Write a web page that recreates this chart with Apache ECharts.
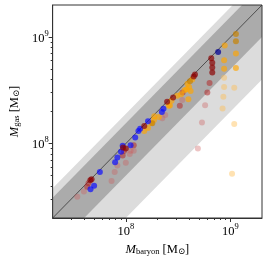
<!DOCTYPE html>
<html><head><meta charset="utf-8">
<script src="https://cdn.jsdelivr.net/npm/echarts@6/dist/echarts.min.js"></script>
<style>html,body{margin:0;padding:0;background:#fff}#c{width:268px;height:261px}</style>
</head><body><div id="c"></div>
<script>
// axis ranges and ticks
const axisMin = 2e7, axisMax = 2e9;
const majorTicks = [1e8, 1e9];
const minorTicks = [3e7,4e7,5e7,6e7,7e7,8e7,9e7,2e8,3e8,4e8,5e8,6e8,7e8,8e8,9e8];
// shaded bands: [low factor, high factor] relative to the 1:1 line
const bandLight = [0.2, 1.9];
const bandDark = [0.5, 1.55];
const oneToOne = [[2e7, 2e7], [2e9, 2e9]];

// points [M_baryon, M_gas]
const blueDots = [[5.65e7,5.4e7],[4.98e7,4.02e7],[4.6e7,3.72e7],[7.9e7,6.68e7],[8.3e7,7.4e7],[9.0e7,8.38e7],[9.33e7,9.52e7],[1.11e8,9.66e7],[1.23e8,1.14e8],[1.32e8,1.31e8],[1.37e8,1.38e8],[1.63e8,1.62e8],[2.29e8,2.12e8],[2.21e8,1.98e8]];
const darkBlueDots = [[7.62e8,7.25e8]];
const darkRedDots = [[9.4e7,9.19e7],[1.0e8,9.0e7],[4.58e7,4.53e7],[4.71e7,4.63e7],[1.5e8,1.46e8],[2.48e8,2.47e8],[2.83e8,2.71e8],[4.45e8,4.27e8],[4.58e8,4.45e8],[6.55e8,6.32e8],[6.7e8,5.74e8],[6.7e8,5.19e8],[6.7e8,4.64e8]];
const redDots = [[4.4e7,4.23e7],[4.27e7,3.94e7],[9.6e7,8.5e7],[9.33e7,7.71e7],[6.31e8,3.7e8],[6.01e8,3.01e8],[1.19e8,9.66e7],[3.28e8,2.26e8],[3.49e8,3.01e8]];
const pinkDots = [[3.98e7,3.55e7],[3.44e7,3.16e7],[7.31e7,4.44e7],[7.83e7,5.4e7],[8.3e7,6.23e7],[1.0e8,6.6e7],[1.09e8,7.98e7],[1.19e8,8.57e7],[1.11e8,8.57e7],[2.23e8,1.73e8],[2.38e8,1.85e8],[3.46e8,2.56e8],[5.72e8,2.29e8],[5.34e8,1.58e8],[4.88e8,9.0e7]];
const orangeDots = [[1.5e8,1.31e8],[1.63e8,1.4e8],[1.75e8,1.56e8],[1.87e8,1.8e8],[1.86e8,1.66e8],[2.07e8,1.78e8],[2.57e8,2.26e8],[2.64e8,2.28e8],[2.73e8,2.53e8],[3.1e8,2.81e8],[3.37e8,2.91e8],[3.64e8,3.17e8],[3.82e8,3.23e8],[4.02e8,3.4e8],[4.16e8,3.12e8],[3.88e8,3.64e8],[4.31e8,3.99e8],[3.96e8,2.6e8],[1.127e9,6.99e8],[1.127e9,5.12e8],[8.81e8,8.34e8],[8.69e8,6.06e8],[8.69e8,5.05e8]];
const darkOrangeDots = [[1.127e9,1.067e9],[1.127e9,9.14e8],[4.1e8,3.85e8],[1.79e8,1.55e8]];
const lightOrangeDots = [[1.086e9,3.35e8],[1.086e9,1.53e8],[1.035e9,5.22e7],[8.69e8,4.14e8],[8.69e8,3.4e8],[8.55e8,2.75e8],[8.4e8,2.13e8]];

const serif = '"Liberation Serif","DejaVu Serif",serif';
const tickRich = {
  b:{fontFamily:serif,fontSize:12.5,color:'#000',lineHeight:16,verticalAlign:'bottom'},
  s:{fontFamily:serif,fontSize:8.5,color:'#000',lineHeight:16,verticalAlign:'top'}
};
const tickFmt = v => '{b|10}{s|' + Math.round(Math.log10(v)) + '}';
const nameRich = {
  i:{fontFamily:serif,fontSize:12.5,fontStyle:'italic',color:'#000',lineHeight:13,verticalAlign:'middle'},
  n:{fontFamily:serif,fontSize:12.5,color:'#000',lineHeight:13,verticalAlign:'middle'},
  sb:{fontFamily:serif,fontSize:8.5,color:'#000',lineHeight:8,verticalAlign:'bottom'}
};

function bandSeries(band, color){
  return {type:'custom', clip:true, silent:true, z:1, xAxisIndex:0, yAxisIndex:0,
    data:[band],
    renderItem:(params, api)=>{
      const lo = api.value(0), hi = api.value(1);
      const pts = [api.coord([axisMin, axisMin*lo]), api.coord([axisMax, axisMax*lo]),
                   api.coord([axisMax, axisMax*hi]), api.coord([axisMin, axisMin*hi])];
      return {type:'polygon', shape:{points:pts}, style:{fill:color, stroke:null}};
    }};
}
function dots(data, color){
  return {type:'scatter', data, symbolSize:6, z:3, xAxisIndex:0, yAxisIndex:0,
    itemStyle:{color, borderWidth:0}};
}
const chart = echarts.init(document.getElementById('c'), null, {renderer:'canvas'});
chart.setOption({
  animation:false,
  grid:{left:43, top:5, width:219, height:219, show:true, borderColor:'#333', borderWidth:1, backgroundColor:'transparent', z:10},
  xAxis:[
    {type:'log', min:axisMin, max:axisMax, position:'bottom',
     axisLine:{show:true, lineStyle:{color:'#333', width:1}},
     axisTick:{show:true, length:4, customValues:majorTicks, lineStyle:{color:'#333'}},
     axisLabel:{customValues:majorTicks, formatter:tickFmt, rich:tickRich, margin:4},
     splitLine:{show:false}, minorTick:{show:false},
     name:'{i|M}{sb|baryon}{n| [M}{sb|⊙}{n|]}', nameLocation:'middle', nameGap:25,
     nameTextStyle:{rich:nameRich}},
    {type:'log', min:axisMin, max:axisMax, position:'bottom', gridIndex:0,
     axisLine:{show:false},
     axisTick:{show:true, length:2, customValues:minorTicks, lineStyle:{color:'#333'}},
     axisLabel:{show:false}, splitLine:{show:false}}
  ],
  yAxis:[
    {type:'log', min:axisMin, max:axisMax, position:'left',
     axisLine:{show:true, lineStyle:{color:'#333', width:1}},
     axisTick:{show:true, length:4, customValues:majorTicks, lineStyle:{color:'#333'}},
     axisLabel:{customValues:majorTicks, formatter:tickFmt, rich:tickRich, margin:4},
     splitLine:{show:false},
     name:'{i|M}{sb|gas}{n| [M}{sb|⊙}{n|]}', nameLocation:'middle', nameGap:28, nameRotate:90,
     nameTextStyle:{rich:nameRich}},
    {type:'log', min:axisMin, max:axisMax, position:'left', gridIndex:0,
     axisLine:{show:false},
     axisTick:{show:true, length:2, customValues:minorTicks, lineStyle:{color:'#333'}},
     axisLabel:{show:false}, splitLine:{show:false}}
  ],
  series:[
    bandSeries(bandLight, '#dcdcdc'),
    bandSeries(bandDark, '#ababab'),
    {type:'line', data:oneToOne, symbol:'none', z:2, silent:true, xAxisIndex:0, yAxisIndex:0,
     lineStyle:{color:'#444', width:0.9}},
    dots(pinkDots, 'rgba(205,92,92,0.45)'),
    dots(lightOrangeDots, 'rgba(255,190,80,0.55)'),
    dots(redDots, 'rgba(178,34,34,0.65)'),
    dots(orangeDots, 'rgba(255,165,0,0.82)'),
    dots(darkOrangeDots, 'rgba(200,130,0,0.85)'),
    dots(blueDots, 'rgba(10,10,255,0.85)'),
    dots(darkBlueDots, 'rgba(0,0,150,0.9)'),
    dots(darkRedDots, 'rgba(139,0,0,0.85)')
  ]
});
</script></body></html>
